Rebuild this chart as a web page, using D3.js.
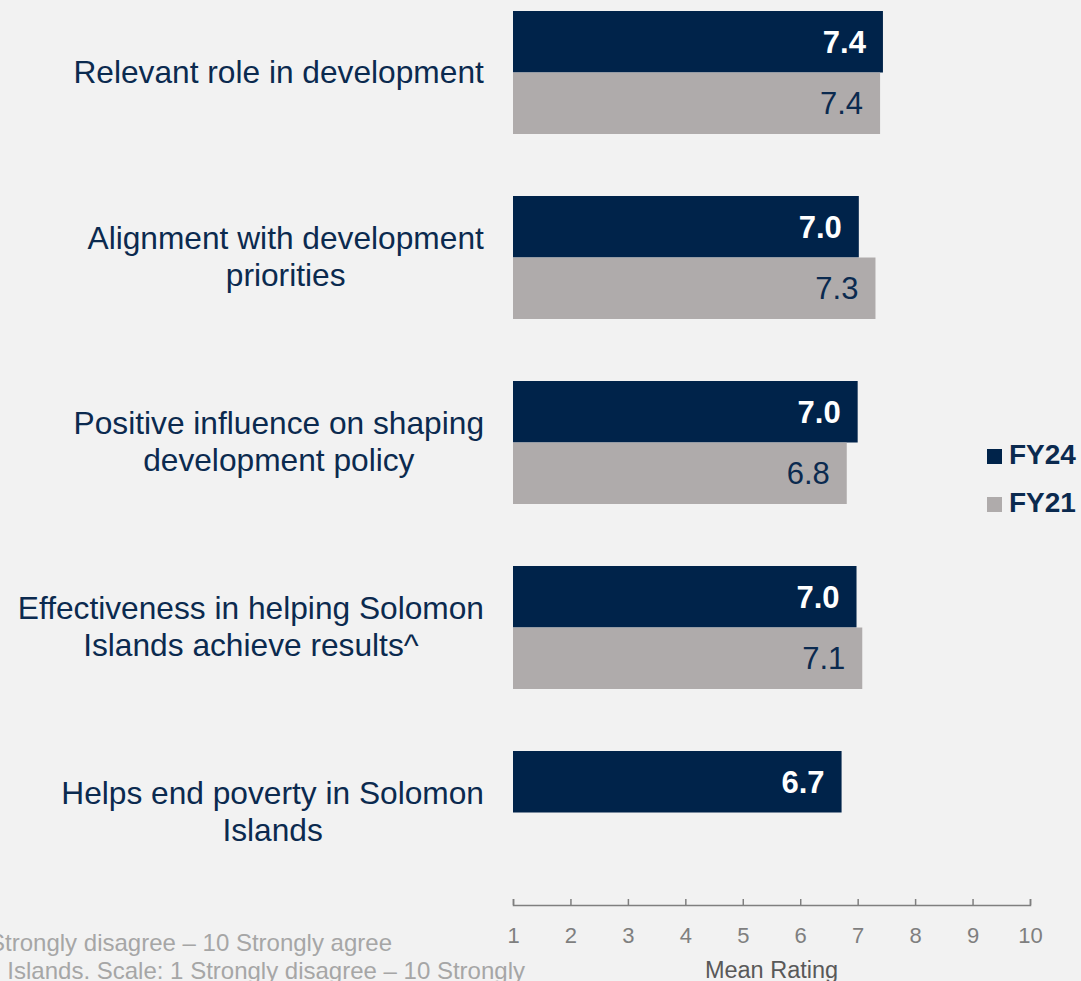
<!DOCTYPE html>
<html>
<head>
<meta charset="utf-8">
<script src="https://cdn.jsdelivr.net/npm/d3@7/dist/d3.min.js"></script>
<style>
  html, body { margin: 0; padding: 0; background: #f2f2f2; overflow: hidden; }
  svg { display: block; font-family: Arial, "Liberation Sans", sans-serif; }
</style>
</head>
<body>
<svg id="chart" width="1081" height="981"></svg>
<script>
const categories = [
  ["Relevant role in development"],
  ["Alignment with development", "priorities"],
  ["Positive influence on shaping", "development policy"],
  ["Effectiveness in helping Solomon", "Islands achieve results^"],
  ["Helps end poverty in Solomon", "Islands"]
];
const seriesNames = ["FY24", "FY21"];
const fy24 = [7.44, 7.02, 7.0, 6.98, 6.72];
const fy21 = [7.39, 7.31, 6.81, 7.08, null];
const xTicks = [1, 2, 3, 4, 5, 6, 7, 8, 9, 10];
const axisTitle = "Mean Rating";
const footnotes = [
  "Scale: 1 Strongly disagree – 10 Strongly agree",
  "^ FY21: Effectiveness in helping Solomon Islands. Scale: 1 Strongly disagree – 10 Strongly"
];

const NAVY = "#00234a";
const GREY = "#afabab";
const TEXT = "#0b2a4f";

const svg = d3.select("#chart");
svg.append("rect").attr("width", 1081).attr("height", 981).attr("fill", "#f2f2f2");

const x = d3.scaleLinear().domain([1, 10]).range([513, 1030]);
const keys = categories.map((c, i) => i);
const y = d3.scaleBand().domain(keys).range([11, 11 + 4 * 185 + 123]).paddingInner(62 / 185).paddingOuter(0);
const ySub = d3.scaleBand().domain(seriesNames).range([0, y.bandwidth()]);

const data = keys.map(i => ({ i, vals: [{ s: "FY24", v: fy24[i] }, { s: "FY21", v: fy21[i] }].filter(d => d.v != null) }));

const groups = svg.append("g").selectAll("g").data(data).join("g")
  .attr("transform", d => `translate(0,${y(d.i)})`);

groups.selectAll("rect").data(d => d.vals).join("rect")
  .attr("x", x(1))
  .attr("y", d => ySub(d.s))
  .attr("height", ySub.bandwidth())
  .attr("width", d => x(d.v) - x(1))
  .attr("fill", d => d.s === "FY24" ? NAVY : GREY);

groups.selectAll("text.val").data(d => d.vals).join("text")
  .attr("class", "val")
  .attr("x", d => x(d.v) - 17)
  .attr("y", d => ySub(d.s) + ySub.bandwidth() / 2 + 11)
  .attr("text-anchor", "end")
  .attr("font-size", 31)
  .attr("font-weight", d => d.s === "FY24" ? "bold" : "normal")
  .attr("fill", d => d.s === "FY24" ? "#ffffff" : TEXT)
  .text(d => d3.format(".1f")(d.v));

// Category labels
const lh = 36.5;
categories.forEach((lines, i) => {
  const cy = y(i) + y.bandwidth() / 2;
  const t = svg.append("text")
    .attr("font-size", 31.7)
    .attr("fill", TEXT)
    .attr("text-anchor", "middle");
  lines.forEach((ln, j) => {
    t.append("tspan")
      .attr("x", 0)
      .attr("y", cy + 10 + (j - (lines.length - 1) / 2) * lh)
      .text(ln);
  });
  const bb = t.node().getBBox();
  t.attr("transform", `translate(${484 - (bb.x + bb.width)},0)`);
});

// Axis
const axisY = 905;
const axis = svg.append("g").attr("transform", `translate(0,${axisY})`)
  .call(d3.axisBottom(x).tickValues(xTicks).tickSize(-6).tickPadding(0).tickSizeOuter(-6).tickFormat(d3.format("d")));
axis.select(".domain").attr("stroke", "#7f7f7f").attr("stroke-width", 1.5);
axis.selectAll(".tick line").attr("stroke", "#7f7f7f").attr("stroke-width", 1.5);
axis.selectAll(".tick text")
  .attr("dy", null)
  .attr("y", 38)
  .attr("font-size", 22)
  .attr("font-family", "Arial, 'Liberation Sans', sans-serif")
  .attr("fill", "#7f7f7f");

svg.append("text")
  .attr("x", (705 + 838) / 2)
  .attr("y", 978)
  .attr("text-anchor", "middle")
  .attr("font-size", 23.5)
  .attr("fill", "#595959")
  .text(axisTitle);

// Legend
const legend = svg.append("g").selectAll("g").data(seriesNames).join("g")
  .attr("transform", (d, i) => `translate(987,${449 + i * 48})`);
legend.append("rect").attr("width", 15).attr("height", 15)
  .attr("fill", d => d === "FY24" ? NAVY : GREY);
legend.append("text").attr("x", 22).attr("y", 14.5)
  .attr("font-size", 28).attr("font-weight", "bold").attr("fill", TEXT)
  .text(d => d);

// Footnotes (clipped at left edge as in the original)
svg.append("text").attr("x", 392).attr("y", 951).attr("text-anchor", "end")
  .attr("font-size", 24).attr("fill", "#a6a6a6").text(footnotes[0]);
svg.append("text").attr("x", 525).attr("y", 979).attr("text-anchor", "end")
  .attr("font-size", 24).attr("fill", "#a6a6a6").text(footnotes[1]);
</script>
</body>
</html>
